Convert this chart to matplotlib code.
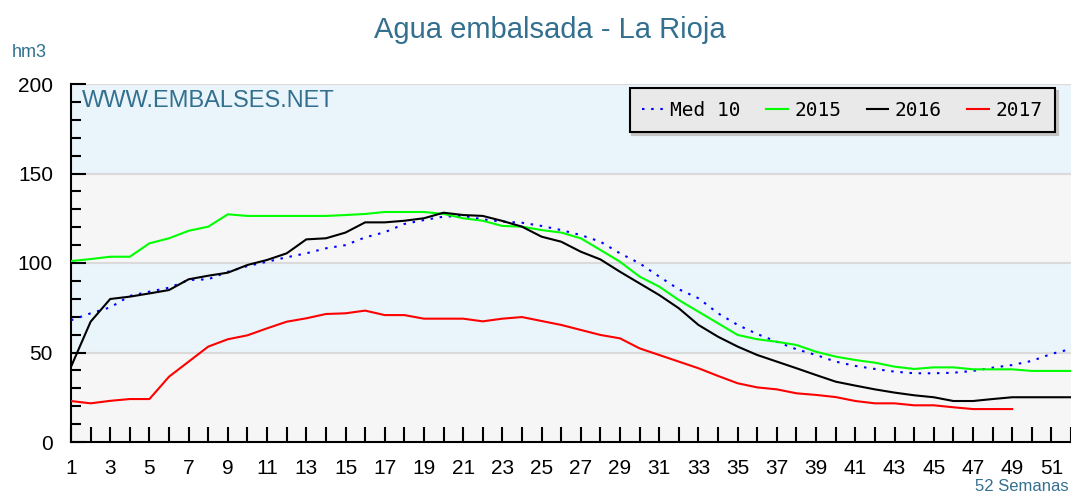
import matplotlib
matplotlib.use('Agg')
import matplotlib.pyplot as plt
from matplotlib.ticker import MultipleLocator

plt.rcParams['font.family'] = ['Liberation Sans', 'DejaVu Sans']

# datos semanales (hm3)
weeks = list(range(1, 53))
med10 = [68, 71.9, 75.2, 81.6, 84, 86.2, 90.5, 90.9, 95.1, 98.3, 100.7, 103.2, 105.4,
         108.2, 110, 114.3, 117.2, 121.8, 124, 125.9, 126.3, 124.4, 123.1, 122.5, 120.7,
         118.4, 115.6, 111.9, 105.4, 99.8, 92.4, 85.3, 80.3, 71.9, 65.4, 60.3, 56, 51.8,
         48.6, 44.9, 42.5, 40.8, 39.3, 38.4, 38.4, 38.7, 39.7, 41.5, 43, 45.3, 49.2, 52]
y2015 = [101.1, 102.2, 103.5, 103.5, 111, 113.8, 118, 120.3, 127.2, 126.3, 126.3, 126.3,
         126.3, 126.3, 126.8, 127.4, 128.5, 128.5, 128.5, 127.4, 125, 123.6, 120.7, 120.3,
         118.4, 117, 113.8, 107.3, 100.7, 92.4, 86.8, 79.3, 72.8, 66.3, 59.8, 57.4, 56,
         54.2, 50.4, 47.7, 45.8, 44.3, 42.1, 40.8, 41.7, 41.7, 40.6, 40.6, 40.6, 39.7,
         39.7, 39.7]
y2016 = [42, 67.2, 79.9, 81.2, 83, 84.9, 90.9, 92.9, 94.6, 98.9, 101.7, 105.4, 113.2,
         113.8, 117, 122.7, 122.7, 123.6, 125, 128.1, 126.8, 126.3, 123.5, 120.3, 114.7,
         111.9, 106.3, 102, 95.1, 88.6, 82.1, 74.7, 65.4, 58.8, 53.3, 48.6, 44.9, 41.2,
         37.4, 33.7, 31.5, 29.4, 27.6, 26.1, 25, 22.9, 22.9, 24, 25, 25, 25, 25]
y2017 = [22.9, 21.6, 23, 24, 24, 36.5, 44.9, 53.3, 57.4, 59.6, 63.5, 67.2, 69.1, 71.5,
         71.9, 73.4, 70.9, 70.9, 68.9, 68.9, 68.9, 67.4, 68.9, 69.8, 67.6, 65.4, 62.6,
         59.8, 57.9, 52.3, 48.6, 44.9, 41.2, 36.9, 32.8, 30.5, 29.4, 27.2, 26.3, 25.1,
         22.9, 21.6, 21.6, 20.5, 20.5, 19.4, 18.4, 18.4, 18.4]
x_tick_labels = [str(w) if w % 2 else '' for w in weeks]
y_ticks = [0, 50, 100, 150, 200]

blue_txt = '#33708f'

fig = plt.figure(figsize=(10.71, 4.93), dpi=100)
ax = fig.add_axes([71 / 1071, 51 / 493, 1000 / 1071, 358 / 493])

# bandas de fondo
for lo in (0, 100):
    ax.axhspan(lo, lo + 50, color='#f6f6f6', zorder=0, lw=0)
for lo in (50, 150):
    ax.axhspan(lo, lo + 50, color='#eaf4fb', zorder=0, lw=0)
for v in (50, 100, 150, 200):
    ax.axhline(v, color='#dadada', lw=1.5, zorder=1)

ax.plot(weeks, med10, color='#0000ff', lw=1.5, ls=(0, (1.2, 3.2)), label='Med 10', zorder=3)
ax.plot(weeks, y2015, color='#00ff00', lw=1.5, label='2015', zorder=3)
ax.plot(weeks, y2016, color='black', lw=1.5, label='2016', zorder=3)
ax.plot(weeks[:len(y2017)], y2017, color='#ff0000', lw=1.5, label='2017', zorder=3)

ax.set_xlim(1, 52)
ax.set_ylim(0, 200)
ax.set_xticks(weeks)
ax.set_xticklabels(x_tick_labels)
ax.set_yticks(y_ticks)
ax.yaxis.set_minor_locator(MultipleLocator(10))
ax.tick_params(axis='x', direction='in', length=11, width=1.5, pad=12, labelsize=15)
ax.tick_params(axis='y', which='major', direction='in', length=11, width=1.5, pad=13, labelsize=15)
ax.tick_params(axis='y', which='minor', direction='in', length=7, width=1.5)
for s in ('top', 'right'):
    ax.spines[s].set_visible(False)
for s in ('left', 'bottom'):
    ax.spines[s].set_linewidth(1.5)

ax.text(0.011, 0.936, 'WWW.EMBALSES.NET', transform=ax.transAxes, fontsize=17,
        color=blue_txt, va='baseline', ha='left')

leg = ax.legend(loc='upper right', bbox_to_anchor=(0.984, 0.989), borderaxespad=0,
                ncol=4, prop={'family': 'DejaVu Sans Mono', 'size': 14},
                handlelength=1.1, handletextpad=0.35, columnspacing=1.3,
                borderpad=0.65, fancybox=False,
                shadow={'color': '#c4c4c4', 'alpha': 1}, framealpha=1)
leg.get_frame().set_facecolor('#e9e9e9')
leg.get_frame().set_edgecolor('black')
leg.get_frame().set_linewidth(1.5)

fig.text(550 / 1071, (493 - 38) / 493, 'Agua embalsada - La Rioja', fontsize=21,
         color=blue_txt, ha='center', va='baseline')
fig.text(12 / 1071, (493 - 57) / 493, 'hm3', fontsize=13, color=blue_txt,
         ha='left', va='baseline')
fig.text(1069 / 1071, 2 / 493, '52 Semanas', fontsize=12, color=blue_txt,
         ha='right', va='baseline')

fig.savefig('out.png', dpi=100)
